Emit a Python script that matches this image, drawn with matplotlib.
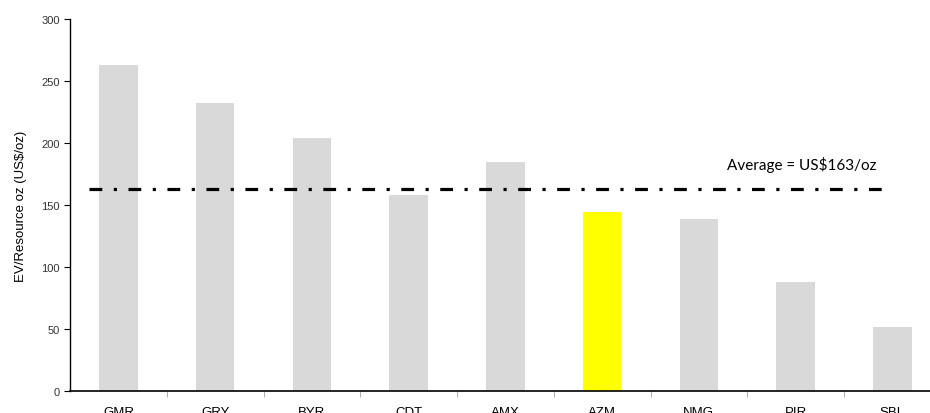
import matplotlib
matplotlib.use("Agg")
from matplotlib import pyplot as plt
import numpy as np

# data
tickers = ["GMR", "GRY", "BYR", "CDT", "AMX", "AZM", "NMG", "PIR", "SBL"]
ev_per_oz = [263, 232, 204, 158, 185, 144, 139, 88, 52]
highlight = "AZM"
average = 163

plt.rcParams["font.family"] = ["Liberation Sans", "DejaVu Sans"]

fig = plt.figure(figsize=(9.3, 4.14), dpi=100)
# axis runs off the right edge in the reference
ax = fig.add_axes([70 / 930, 22 / 414, 870.75 / 930, 372 / 414])

x = np.arange(len(tickers))
colors = ["#ffff00" if t == highlight else "#d9d9d9" for t in tickers]
ax.bar(x, ev_per_oz, width=0.4, color=colors, zorder=2)

ax.plot([-0.305, 7.95], [average, average], color="black", lw=2.3,
        dashes=(4, 3.6, 1, 3.6), zorder=3)
ax.text(7.065, average + 20, "Average = US$163/oz", ha="center", va="center",
        fontsize=11, family=["Lato", "DejaVu Sans"])

ax.set_xlim(-0.5, len(tickers) - 0.5)
ax.set_ylim(0, 300)
ax.set_yticks(range(0, 301, 50))
ax.set_xticks(x)
ax.set_xticklabels(tickers, fontsize=9.5)
ax.set_xticks(np.arange(0.5, len(tickers) - 0.5), minor=True)
ax.tick_params(axis="x", which="major", length=0, pad=11)
ax.tick_params(axis="x", which="minor", length=4, color="#a0a0a0")
ax.tick_params(axis="y", length=4, labelsize=8, colors="black", labelcolor="#333333")
ax.set_ylabel("EV/Resource oz (US$/oz)", fontsize=9.5, labelpad=10)

for side in ["top", "right"]:
    ax.spines[side].set_visible(False)
ax.spines["left"].set_linewidth(1)
ax.spines["bottom"].set_linewidth(1.2)

fig.savefig("out.png", dpi=100)
